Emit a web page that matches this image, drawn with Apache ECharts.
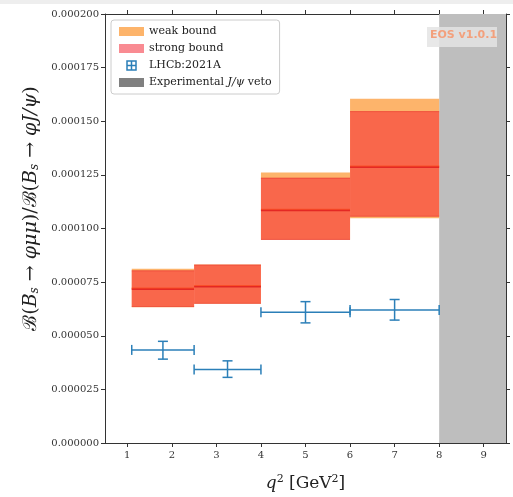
<!DOCTYPE html>
<html><head><meta charset="utf-8">
<script src="https://cdn.jsdelivr.net/npm/echarts@6/dist/echarts.min.js"></script>
<style>html,body{margin:0;padding:0;background:#fff}#c{width:513px;height:497px}</style>
</head><body><div id="c"></div>
<script>
// q^2 bins
const binLo = [1.1, 2.5, 4.0, 6.0];
const binHi = [2.5, 4.0, 6.0, 8.0];
// weak bound
const weakLo  = [6.33e-5, 6.49e-5, 9.47e-5, 1.048e-4];
const weakMid = [7.21e-5, 7.33e-5, 1.088e-4, 1.290e-4];
const weakHi  = [8.12e-5, 8.32e-5, 1.261e-4, 1.605e-4];
// strong bound
const strongLo  = [6.36e-5, 6.51e-5, 9.49e-5, 1.057e-4];
const strongMid = [7.17e-5, 7.29e-5, 1.084e-4, 1.286e-4];
const strongHi  = [8.03e-5, 8.30e-5, 1.235e-4, 1.545e-4];
// LHCb:2021A
const lhcbX   = [1.8, 3.25, 5.0, 7.0];
const lhcbY   = [4.34e-5, 3.43e-5, 6.10e-5, 6.20e-5];
const lhcbLo  = [3.91e-5, 3.06e-5, 5.60e-5, 5.73e-5];
const lhcbHi  = [4.74e-5, 3.83e-5, 6.59e-5, 6.69e-5];
// veto region
const vetoRange = [8.0, 9.5];
// ticks
const xTicks = [1, 2, 3, 4, 5, 6, 7, 8, 9];

const serif = '"DejaVu Serif", "Liberation Serif", serif';
const weakFill = '#fdb46b';
const strongFill = 'rgba(245,40,50,0.55)';
const blue = '#2b7fb8';

function boxData(lo, mid, hi) {
  return binLo.map((b, i) => [b, binHi[i], lo[i], hi[i], mid[i]]);
}
function boxRender(fill, lineColor, edge) {
  return function (params, api) {
    const p0 = api.coord([api.value(0), api.value(3)]);
    const p1 = api.coord([api.value(1), api.value(2)]);
    const pm = api.coord([api.value(0), api.value(4)]);
    const children = [{
      type: 'rect',
      shape: { x: p0[0], y: p0[1], width: p1[0] - p0[0], height: p1[1] - p0[1] },
      style: { fill: fill }
    }, {
      type: 'line',
      shape: { x1: p0[0], y1: pm[1], x2: p1[0], y2: pm[1] },
      style: { stroke: lineColor, lineWidth: 1.5 }
    }];
    if (edge) {
      children.push({ type: 'line', shape: { x1: p0[0], y1: p0[1], x2: p1[0], y2: p0[1] }, style: { stroke: edge, lineWidth: 1 } });
      children.push({ type: 'line', shape: { x1: p0[0], y1: p1[1], x2: p1[0], y2: p1[1] }, style: { stroke: edge, lineWidth: 1 } });
    }
    return { type: 'group', children: children };
  };
}
const lhcbData = lhcbX.map((x, i) => [x, lhcbY[i], binLo[i], binHi[i], lhcbLo[i], lhcbHi[i]]);
function errRender(params, api) {
  const c = api.coord([api.value(0), api.value(1)]);
  const l = api.coord([api.value(2), api.value(1)]);
  const r = api.coord([api.value(3), api.value(1)]);
  const b = api.coord([api.value(0), api.value(4)]);
  const t = api.coord([api.value(0), api.value(5)]);
  const cap = 5, st = { stroke: blue, lineWidth: 1.5 };
  return { type: 'group', children: [
    { type: 'line', shape: { x1: l[0], y1: c[1], x2: r[0], y2: c[1] }, style: st },
    { type: 'line', shape: { x1: l[0], y1: c[1] - cap, x2: l[0], y2: c[1] + cap }, style: st },
    { type: 'line', shape: { x1: r[0], y1: c[1] - cap, x2: r[0], y2: c[1] + cap }, style: st },
    { type: 'line', shape: { x1: c[0], y1: t[1], x2: c[0], y2: b[1] }, style: st },
    { type: 'line', shape: { x1: c[0] - cap, y1: t[1], x2: c[0] + cap, y2: t[1] }, style: st },
    { type: 'line', shape: { x1: c[0] - cap, y1: b[1], x2: c[0] + cap, y2: b[1] }, style: st }
  ]};
}

const chart = echarts.init(document.getElementById('c'), null, { renderer: 'canvas' });
const axisLineStyle = { color: '#333', width: 1 };
chart.setOption({
  animation: false,
  backgroundColor: '#fff',
  grid: { left: 105, right: 7, top: 14, bottom: 50, show: false },
  xAxis: [{
    type: 'value', min: 0.5, max: 9.5, position: 'bottom',
    axisLine: { show: true, onZero: false, lineStyle: axisLineStyle },
    axisTick: { show: true, length: 4, customValues: xTicks, lineStyle: axisLineStyle },
    axisLabel: { customValues: xTicks, color: '#333', fontFamily: serif, fontSize: 10, margin: 7 },
    splitLine: { show: false },
    name: '{i|q}{sup|2} [GeV{sup|2}]', nameLocation: 'middle', nameGap: 31,
    nameTextStyle: { color: '#222', fontFamily: serif, fontSize: 17,
      rich: { i: { fontFamily: serif, fontStyle: 'italic', fontSize: 17, color: '#222' },
              sup: { fontFamily: serif, fontSize: 11, verticalAlign: 'top', padding: [0, 0, 8, 0], color: '#222' } } }
  }, {
    type: 'value', min: 0.5, max: 9.5, position: 'top',
    axisLine: { show: true, onZero: false, lineStyle: axisLineStyle },
    axisTick: { show: true, length: 4, customValues: xTicks, lineStyle: axisLineStyle },
    axisLabel: { show: false }, splitLine: { show: false }
  }],
  yAxis: [{
    type: 'value', min: 0, max: 0.0002, interval: 0.000025, position: 'left',
    axisLine: { show: true, onZero: false, lineStyle: axisLineStyle },
    axisTick: { show: true, length: 4, lineStyle: axisLineStyle },
    axisLabel: { formatter: v => v.toFixed(6), color: '#333', fontFamily: serif, fontSize: 10, margin: 6 },
    splitLine: { show: false },
    name: '\u212C({i|B}{sub|s} \u2192 {i|\u03C6\u03BC\u03BC})/\u212C({i|B}{sub|s} \u2192 {i|\u03C6J/\u03C8})',
    nameLocation: 'middle', nameRotate: 90, nameGap: 60,
    nameTextStyle: { color: '#222', fontFamily: serif, fontSize: 19, padding: [0, 0, 0, 40],
      rich: { i: { fontFamily: serif, fontStyle: 'italic', fontSize: 19, color: '#222' },
              sub: { fontFamily: serif, fontStyle: 'italic', fontSize: 12, verticalAlign: 'bottom', padding: [7, 0, 0, 0], color: '#222' } } }
  }, {
    type: 'value', min: 0, max: 0.0002, interval: 0.000025, position: 'right',
    axisLine: { show: true, onZero: false, lineStyle: axisLineStyle },
    axisTick: { show: true, length: 4, lineStyle: axisLineStyle },
    axisLabel: { show: false }, splitLine: { show: false }
  }],
  legend: {
    left: 111, top: 20, orient: 'vertical', itemWidth: 25, itemHeight: 9, itemGap: 6,
    padding: [6, 8, 6, 8], borderColor: '#ccc', borderWidth: 1, borderRadius: 3, backgroundColor: 'rgba(255,255,255,0.9)',
    textStyle: { fontFamily: serif, fontSize: 11, color: '#222',
      rich: { t: { fontFamily: serif, fontSize: 11, color: '#222' }, i: { fontFamily: serif, fontStyle: 'italic', fontSize: 11, color: '#222' } } },
    formatter: n => n === 'Experimental J/\u03C8 veto' ? '{t|Experimental }{i|J/\u03C8}{t| veto}' : n,
    data: [
      { name: 'weak bound', icon: 'rect', itemStyle: { color: weakFill } },
      { name: 'strong bound', icon: 'rect', itemStyle: { color: '#f98b92' } },
      { name: 'LHCb:2021A', icon: 'path://M1,1H19V19H1ZM10,1V19M1,10H19', itemStyle: { color: 'rgba(0,0,0,0)', borderColor: blue, borderWidth: 1.5 } },
      { name: 'Experimental J/\u03C8 veto', icon: 'rect', itemStyle: { color: '#808080' } }
    ]
  },
  graphic: [
    { type: 'rect', left: 0, top: 0, shape: { width: 513, height: 4 }, style: { fill: '#eeeeee' }, z: 100 },
    { type: 'rect', left: 427, top: 27, shape: { width: 70, height: 20 }, style: { fill: 'rgba(228,228,228,0.85)' }, z: 100 },
    { type: 'text', left: 430, top: 30, style: { text: 'EOS v1.0.1', fill: '#f3a07c', font: 'bold 11px "DejaVu Sans", sans-serif' }, z: 101 }
  ],
  series: [
    {
      name: 'Experimental J/\u03C8 veto', type: 'line', data: [], itemStyle: { color: '#808080' },
      markArea: { silent: true, itemStyle: { color: '#bebebe' }, data: [[{ xAxis: vetoRange[0] }, { xAxis: vetoRange[1] }]] }
    },
    {
      name: 'weak bound', type: 'custom', itemStyle: { color: weakFill },
      renderItem: boxRender(weakFill, '#ff7f1e', null), data: boxData(weakLo, weakMid, weakHi),
      encode: { x: [0, 1], y: [2, 3] }
    },
    {
      name: 'strong bound', type: 'custom', itemStyle: { color: '#f98b92' },
      renderItem: boxRender(strongFill, 'rgba(225,30,30,0.85)', 'rgba(230,40,40,0.55)'), data: boxData(strongLo, strongMid, strongHi),
      encode: { x: [0, 1], y: [2, 3] }
    },
    {
      name: 'LHCb:2021A', type: 'custom', itemStyle: { color: blue },
      renderItem: errRender, data: lhcbData, encode: { x: [2, 3], y: [4, 5] }
    }
  ]
});
</script></body></html>
